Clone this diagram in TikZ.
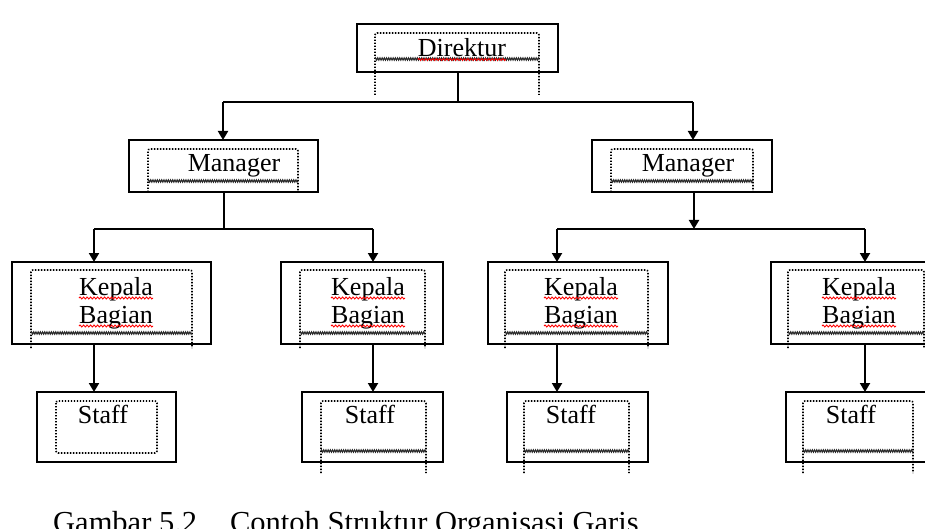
\documentclass[tikz,border=0pt]{standalone}
\usepackage{fontspec}
\setmainfont{Liberation Serif}
\usetikzlibrary{arrows.meta,calc,decorations.pathmorphing}

\tikzset{
  box/.style={draw, line width=2pt, inner sep=0pt, outer sep=0pt, fill=white},
  conn/.style={line width=2pt},
  arr/.style={line width=2pt, -{Triangle[width=10pt,length=9pt]}},
  label/.style={inner sep=0pt, font=\fontsize{26}{28}\selectfont, align=center},
  dots/.style={line width=1.6pt, dash pattern=on 1.4pt off 1.6pt, black, rounded corners=2pt},
  wave/.style={line width=1pt, black!85, decorate,
    decoration={zigzag, amplitude=1.2pt, segment length=2.2pt}},
  spell/.style={line width=0.9pt, red, decorate,
    decoration={snake, amplitude=1pt, segment length=3.5pt}}
}

% inner text-frame: left x, top y, right x, wave y, bottom y
\newcommand{\textframe}[5]{%
  \draw[dots] (#1,#5) -- (#1,#2) -- (#3,#2) -- (#3,#5);
  \draw[wave] (#1,#4) -- (#3,#4);
}

\begin{document}
\begin{tikzpicture}[x=1pt, y=-1pt]
\useasboundingbox (0,0) rectangle (925,529);

% boxes
\node[box, minimum width=201, minimum height=48] (dir) at (457.5,48) {};
\node[box, minimum width=189, minimum height=52] (ml) at (223.5,166) {};
\node[box, minimum width=180, minimum height=52] (mr) at (682,166) {};
\node[box, minimum width=199, minimum height=82] (k1) at (111.5,303) {};
\node[box, minimum width=162, minimum height=82] (k2) at (362,303) {};
\node[box, minimum width=180, minimum height=82] (k3) at (578,303) {};
\node[box, minimum width=174, minimum height=82] (k4) at (858,303) {};
\node[box, minimum width=139, minimum height=70] (s1) at (106.5,427) {};
\node[box, minimum width=141, minimum height=70] (s2) at (372.5,427) {};
\node[box, minimum width=141, minimum height=70] (s3) at (577.5,427) {};
\node[box, minimum width=149, minimum height=70] (s4) at (860.5,427) {};

% dotted text frames
\textframe{375}{33}{539}{59}{95}
\textframe{148}{149}{298}{181}{192}
\textframe{611}{149}{753}{181}{192}
\textframe{31}{270}{192}{333}{348}
\textframe{300}{270}{425}{333}{348}
\textframe{505}{270}{648}{333}{348}
\textframe{788}{270}{924}{333}{348}
\draw[dots] (56,401) rectangle (157,453);
\textframe{321}{401}{426}{451}{473}
\textframe{524}{401}{629}{451}{473}
\textframe{803}{401}{913}{451}{473}

% labels
\node[label, anchor=base] (tdir) at (462,57) {Direktur};
\node[label, anchor=base] (tml) at (234,172) {Manager};
\node[label, anchor=base] (tmr) at (688,172) {Manager};
\node[label] (tk1) at (116,303) {Kepala\\Bagian};
\node[label] (tk2) at (368,303) {Kepala\\Bagian};
\node[label] (tk3) at (581,303) {Kepala\\Bagian};
\node[label] (tk4) at (859,303) {Kepala\\Bagian};
\node[label, anchor=base] (ts1) at (103,423) {Staff};
\node[label, anchor=base] (ts2) at (370,423) {Staff};
\node[label, anchor=base] (ts3) at (571,423) {Staff};
\node[label, anchor=base] (ts4) at (851,423) {Staff};

% spelling underlines
\draw[spell] ($(tdir.base west)+(0,2.5)$) -- ($(tdir.base east)+(0,2.5)$);
\foreach \k in {tk1,tk2,tk3,tk4}{
  \draw[spell] ($(\k.west)+(0,-5)$) -- ($(\k.east)+(0,-5)$);
  \draw[spell] ($(\k.west)+(0,23)$) -- ($(\k.east)+(0,23)$);
}

% connectors: direktur to managers
\coordinate (busA) at (223,102);
\coordinate (busB) at (693,102);
\draw[conn] (dir.south) -- (dir.south |- busA);
\draw[conn] (busA) -- (busB);
\draw[arr] (busA) -- (busA |- ml.north);
\draw[arr] (busB) -- (busB |- mr.north);

% left manager to kepala bagian
\coordinate (busC) at (94,229);
\coordinate (busD) at (373,229);
\draw[conn] (ml.south) -- (ml.south |- busC);
\draw[conn] (busC) -- (busD);
\draw[arr] (busC) -- (busC |- k1.north);
\draw[arr] (busD) -- (busD |- k2.north);

% right manager to kepala bagian
\coordinate (busE) at (557,229);
\coordinate (busF) at (865,229);
\coordinate (mrDrop) at (694,229);
\draw[arr] (mrDrop |- mr.south) -- (mrDrop);
\draw[conn] (busE) -- (busF);
\draw[arr] (busE) -- (busE |- k3.north);
\draw[arr] (busF) -- (busF |- k4.north);

% kepala bagian to staff
\draw[arr] (busC |- k1.south) -- (busC |- s1.north);
\draw[arr] (busD |- k2.south) -- (busD |- s2.north);
\draw[arr] (busE |- k3.south) -- (busE |- s3.north);
\draw[arr] (busF |- k4.south) -- (busF |- s4.north);

% caption
\node[inner sep=0pt, font=\fontsize{30.5}{32}\selectfont, anchor=base west] (cap) at (53,532)
  {Gambar 5.2\hspace{1.08em}Contoh Struktur Organisasi Garis};
\end{tikzpicture}
\end{document}
